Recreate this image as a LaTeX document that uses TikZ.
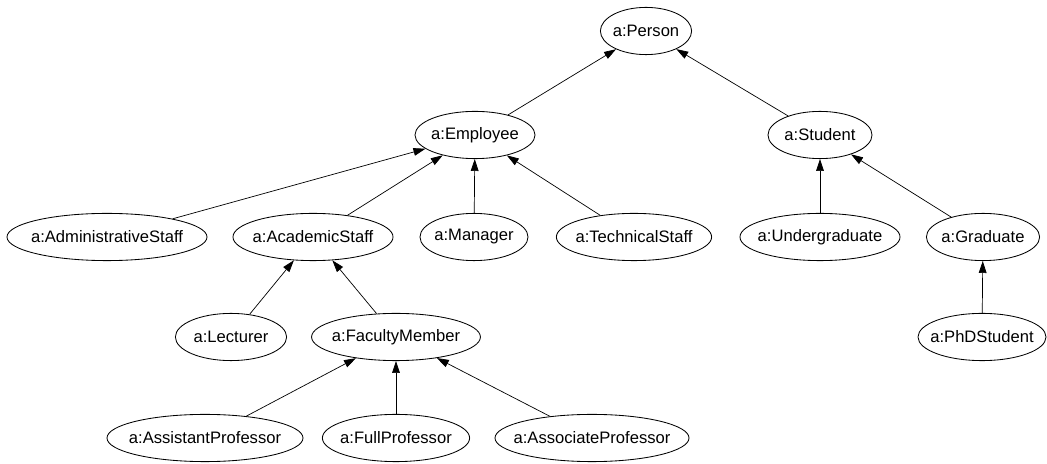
\documentclass[tikz,border=0pt]{standalone}
\usepackage{fontspec}
\setmainfont{Liberation Sans}
\usetikzlibrary{shapes.geometric, arrows.meta}

\begin{document}
\begin{tikzpicture}[x=0.025cm, y=-0.025cm,
	cls/.style={draw, line width=0.6pt, ellipse, inner sep=0pt, minimum height=1.18cm, minimum width=#1,
		font=\fontsize{11.8}{14}\selectfont,
		execute at begin node={\hbox to 0pt\bgroup\hss}, execute at end node={\hss\egroup}},
	isa/.style={draw, line width=0.5pt, -{Triangle[length=8.5pt, width=5.5pt]}}]
	\useasboundingbox (0,0) rectangle (1047,464);

	\node[cls=2.28cm] (person) at (646,31) {a:Person};

	\node[cls=3cm] (employee) at (475,135) {a:Employee};
	\node[cls=2.6cm] (student) at (820,135) {a:Student};

	\node[cls=5cm] (adminstaff) at (107,237) {a:AdministrativeStaff};
	\node[cls=4cm] (academicstaff) at (313,237) {a:AcademicStaff};
	\node[cls=2.7cm] (manager) at (474,237) {a:Manager};
	\node[cls=3.88cm] (techstaff) at (634,237) {a:TechnicalStaff};
	\node[cls=4cm] (undergrad) at (820,237) {a:Undergraduate};
	\node[cls=2.83cm] (graduate) at (983,237) {a:Graduate};

	\node[cls=2.78cm] (lecturer) at (231,337) {a:Lecturer};
	\node[cls=4.22cm] (faculty) at (396,337) {a:FacultyMember};
	\node[cls=3.2cm] (phd) at (982,337) {a:PhDStudent};

	\node[cls=4.9cm] (assistprof) at (205,438) {a:AssistantProfessor};
	\node[cls=3.68cm] (fullprof) at (396,438) {a:FullProfessor};
	\node[cls=4.85cm] (assocprof) at (592,438) {a:AssociateProfessor};

	\draw[isa] (employee) -- (person);
	\draw[isa] (student) -- (person);

	\draw[isa] (adminstaff) -- (employee);
	\draw[isa] (academicstaff) -- (employee);
	\draw[isa] (manager) -- (employee);
	\draw[isa] (techstaff) -- (employee);

	\draw[isa] (undergrad) -- (student);
	\draw[isa] (graduate) -- (student);
	\draw[isa] (phd) -- (graduate);

	\draw[isa] (lecturer) -- (academicstaff);
	\draw[isa] (faculty) -- (academicstaff);

	\draw[isa] (assistprof) -- (faculty);
	\draw[isa] (fullprof) -- (faculty);
	\draw[isa] (assocprof) -- (faculty);
\end{tikzpicture}
\end{document}
